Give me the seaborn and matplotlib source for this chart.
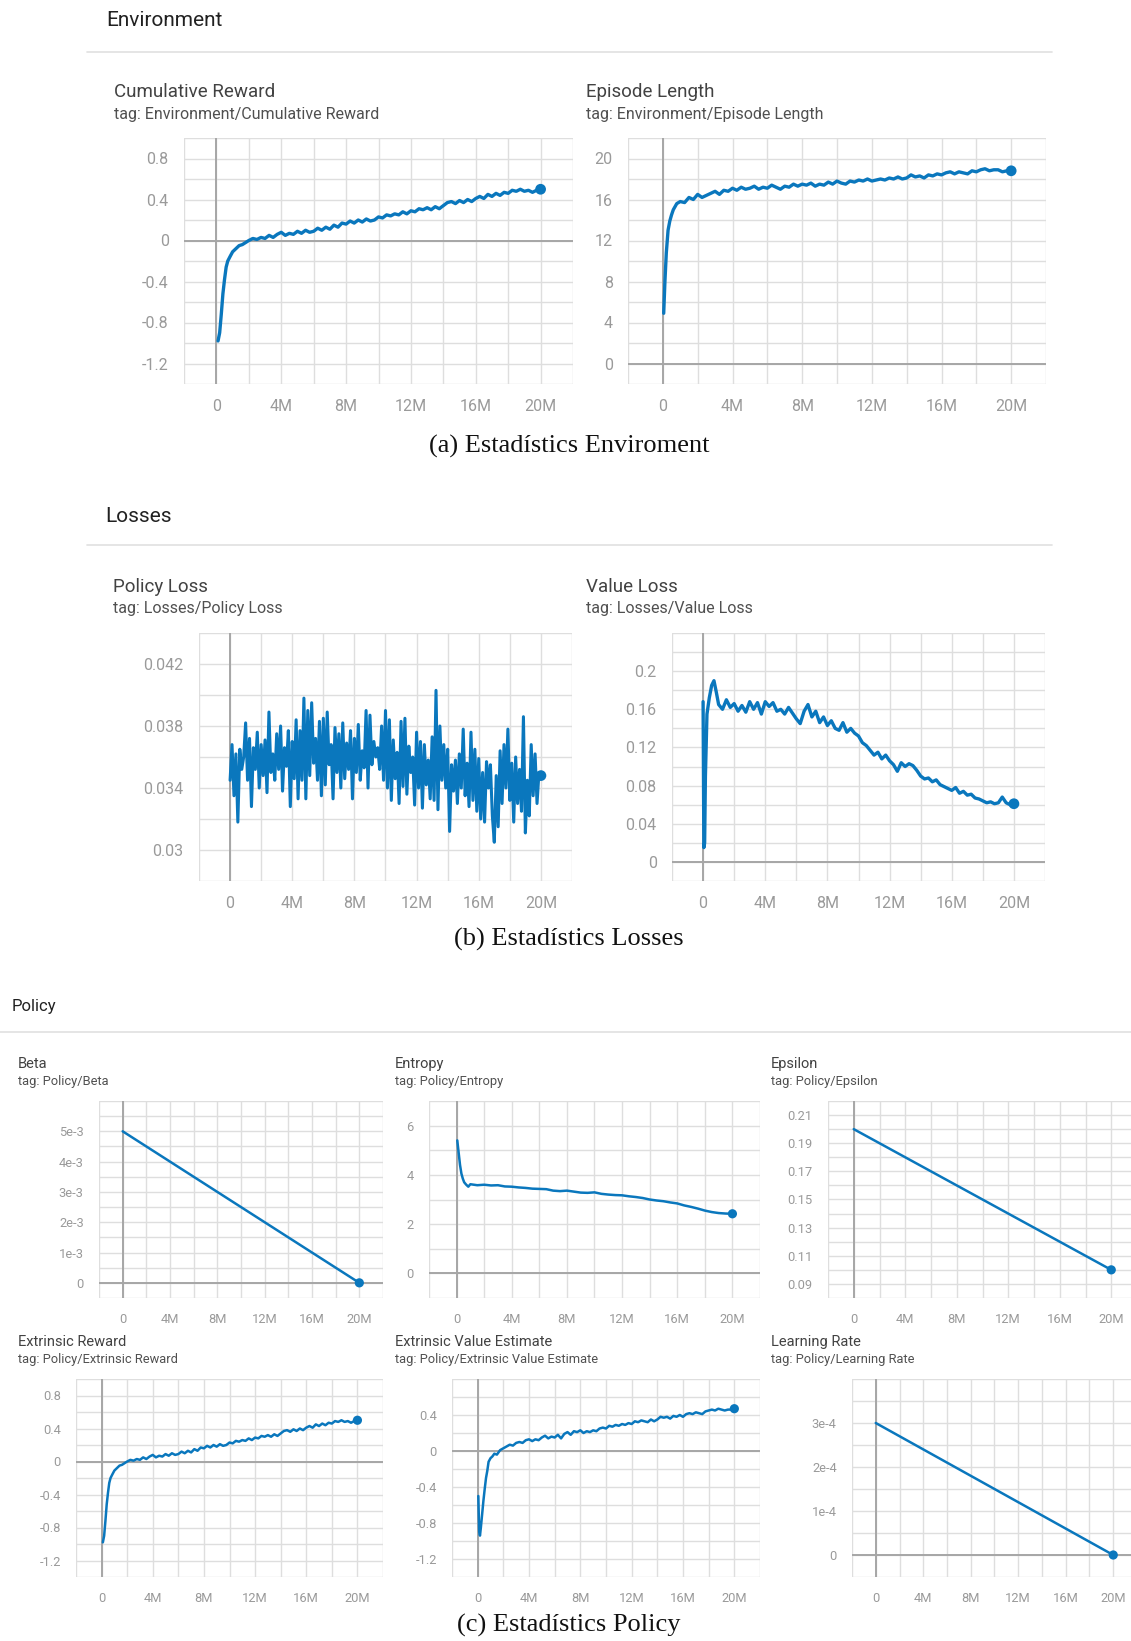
import numpy as np
import pandas as pd
import matplotlib
matplotlib.use("Agg")
import matplotlib.pyplot as plt
import seaborn as sns

# ---------------------------------------------------------------- data
# steps are in millions

# Environment / Cumulative Reward
cum_reward_early_steps = [0.1, 0.2, 0.3, 0.4, 0.5, 0.6, 0.7, 0.83, 1.0, 1.2, 1.4, 1.6, 1.8]
cum_reward_early = [-0.98, -0.90, -0.72, -0.52, -0.38, -0.26, -0.20, -0.16, -0.11, -0.08, -0.05, -0.04, -0.02]
cum_reward_main = [  # from 2M, every 0.25M
    0.00, 0.02, 0.01, 0.03, 0.02, 0.05, 0.03, 0.06,
    0.08, 0.05, 0.07, 0.06, 0.09, 0.07, 0.10, 0.08,
    0.09, 0.12, 0.10, 0.13, 0.11, 0.15, 0.13, 0.17,
    0.16, 0.19, 0.17, 0.20, 0.18, 0.21, 0.19, 0.20,
    0.23, 0.22, 0.25, 0.24, 0.26, 0.25, 0.28, 0.26,
    0.29, 0.28, 0.31, 0.30, 0.32, 0.30, 0.33, 0.31,
    0.34, 0.37, 0.38, 0.36, 0.39, 0.37, 0.40, 0.38,
    0.41, 0.43, 0.41, 0.45, 0.43, 0.46, 0.44, 0.47,
    0.46, 0.49, 0.48, 0.50, 0.48, 0.49, 0.47, 0.49,
    0.50,
]

# Environment / Episode Length
ep_len_early_steps = [0.05, 0.12, 0.2, 0.3, 0.4, 0.5, 0.6, 0.7, 0.8, 0.9]
ep_len_early = [4.9, 8.0, 10.8, 13.0, 13.9, 14.5, 15.0, 15.3, 15.6, 15.7]
ep_len_main = [  # from 1M, every 0.25M
    15.8, 15.7, 16.2, 16.0,
    16.5, 16.2, 16.4, 16.6, 16.8, 16.5, 16.9, 16.8,
    17.1, 16.9, 17.2, 17.0, 17.1, 17.3, 17.0, 17.2,
    17.1, 17.4, 17.2, 17.0, 17.3, 17.2, 17.5, 17.3,
    17.5, 17.4, 17.6, 17.3, 17.5, 17.4, 17.7, 17.5,
    17.8, 17.6, 17.5, 17.8, 17.7, 17.9, 17.8, 18.0,
    17.8, 17.9, 18.0, 17.9, 18.1, 18.0, 18.2, 18.0,
    18.1, 18.4, 18.2, 18.3, 18.1, 18.4, 18.3, 18.5,
    18.4, 18.6, 18.7, 18.5, 18.7, 18.6, 18.5, 18.8,
    18.7, 18.9, 19.0, 18.8, 18.9, 18.9, 18.7, 18.8,
    18.8,
]

# Losses / Policy Loss, every 0.125M from 0
policy_loss = [
    0.0345, 0.0368, 0.0335, 0.0362, 0.0318, 0.0365, 0.0352, 0.0360,
    0.0382, 0.0345, 0.0372, 0.0328, 0.0366, 0.0352, 0.0376, 0.0340,
    0.0368, 0.0348, 0.0371, 0.0337, 0.0389, 0.0350, 0.0362, 0.0345,
    0.0375, 0.0352, 0.0380, 0.0338, 0.0366, 0.0354, 0.0377, 0.0328,
    0.0370, 0.0346, 0.0384, 0.0333, 0.0377, 0.0345, 0.0398, 0.0333,
    0.0390, 0.0348, 0.0395, 0.0356, 0.0372, 0.0345, 0.0383, 0.0335,
    0.0385, 0.0342, 0.0389, 0.0355, 0.0368, 0.0333, 0.0379, 0.0350,
    0.0375, 0.0340, 0.0382, 0.0346, 0.0369, 0.0352, 0.0377, 0.0333,
    0.0372, 0.0350, 0.0381, 0.0345, 0.0364, 0.0353, 0.0390, 0.0340,
    0.0387, 0.0355, 0.0370, 0.0360, 0.0366, 0.0352, 0.0380, 0.0345,
    0.0390, 0.0340, 0.0384, 0.0332, 0.0371, 0.0346, 0.0363, 0.0330,
    0.0383, 0.0341, 0.0385, 0.0336, 0.0367, 0.0350, 0.0360, 0.0329,
    0.0376, 0.0340, 0.0370, 0.0327, 0.0368, 0.0342, 0.0358, 0.0333,
    0.0373, 0.0332, 0.0403, 0.0326, 0.0380, 0.0345, 0.0368, 0.0340,
    0.0365, 0.0312, 0.0355, 0.0338, 0.0358, 0.0330, 0.0362, 0.0340,
    0.0378, 0.0335, 0.0356, 0.0328, 0.0376, 0.0332, 0.0365, 0.0325,
    0.0359, 0.0320, 0.0350, 0.0318, 0.0357, 0.0340, 0.0355, 0.0322,
    0.0305, 0.0348, 0.0315, 0.0364, 0.0330, 0.0368, 0.0340, 0.0378,
    0.0332, 0.0356, 0.0318, 0.0360, 0.0330, 0.0352, 0.0325, 0.0386,
    0.0311, 0.0345, 0.0322, 0.0368, 0.0335, 0.0362, 0.0330, 0.0350,
    0.0348,
]

# Losses / Value Loss
value_loss_early_steps = [0.0, 0.05, 0.1, 0.15, 0.25, 0.4, 0.55, 0.7, 0.85]
value_loss_early = [0.168, 0.015, 0.02, 0.09, 0.155, 0.172, 0.185, 0.19, 0.178]
value_loss_main = [  # from 1M, every 0.25M
    0.165, 0.160, 0.170, 0.162,
    0.166, 0.158, 0.164, 0.157, 0.168, 0.160, 0.167, 0.155,
    0.168, 0.163, 0.167, 0.158, 0.160, 0.155, 0.162, 0.156,
    0.150, 0.145, 0.158, 0.165, 0.152, 0.158, 0.146, 0.152,
    0.143, 0.148, 0.140, 0.138, 0.146, 0.136, 0.140, 0.135,
    0.132, 0.125, 0.122, 0.117, 0.112, 0.115, 0.108, 0.112,
    0.106, 0.102, 0.095, 0.104, 0.100, 0.103, 0.101, 0.096,
    0.090, 0.087, 0.088, 0.084, 0.086, 0.081, 0.079, 0.077,
    0.075, 0.078, 0.072, 0.074, 0.070, 0.071, 0.067, 0.066,
    0.064, 0.062, 0.063, 0.061, 0.062, 0.068, 0.062, 0.060,
    0.061,
]

# Policy / Beta, Epsilon, Learning Rate (linear schedules)
schedule_steps = [0.0, 20.0]
beta_values = [5e-3, 0.0]
epsilon_values = [0.2, 0.1]
learning_rate_values = [3e-4, 0.0]

# Policy / Entropy
entropy_early_steps = [0.05, 0.15, 0.25, 0.35, 0.45, 0.55, 0.7, 0.85]
entropy_early = [5.4, 4.9, 4.4, 4.05, 3.85, 3.7, 3.6, 3.52]
entropy_main = [  # from 1M, every 0.5M
    3.62, 3.58, 3.60, 3.57, 3.58, 3.53, 3.52, 3.49,
    3.47, 3.44, 3.43, 3.42, 3.36, 3.34, 3.36, 3.32,
    3.28, 3.27, 3.29, 3.23, 3.20, 3.18, 3.17, 3.13,
    3.10, 3.06, 3.00, 2.96, 2.93, 2.88, 2.84, 2.76,
    2.70, 2.63, 2.55, 2.49, 2.45, 2.43, 2.42,
]

# Policy / Extrinsic Reward (same signal as the cumulative reward)
ext_reward_early_steps = cum_reward_early_steps
ext_reward_early = cum_reward_early
ext_reward_main = cum_reward_main

# Policy / Extrinsic Value Estimate
ext_value_early_steps = [0.05, 0.12, 0.18, 0.25, 0.35, 0.45, 0.55, 0.65, 0.75, 0.85, 1.0, 1.15, 1.3]
ext_value_early = [-0.50, -0.90, -0.94, -0.85, -0.70, -0.55, -0.42, -0.30, -0.22, -0.12, -0.08, -0.06, -0.03]
ext_value_main = [  # from 1.5M, every 0.25M
    -0.04, 0.01,
    0.03, 0.05, 0.07, 0.06, 0.09, 0.10, 0.09, 0.12,
    0.13, 0.11, 0.13, 0.12, 0.15, 0.17, 0.14, 0.16,
    0.15, 0.18, 0.14, 0.19, 0.21, 0.18, 0.22, 0.21,
    0.23, 0.20, 0.22, 0.21, 0.23, 0.22, 0.25, 0.26,
    0.25, 0.28, 0.27, 0.29, 0.28, 0.30, 0.29, 0.31,
    0.30, 0.33, 0.32, 0.34, 0.33, 0.32, 0.35, 0.33,
    0.35, 0.38, 0.37, 0.38, 0.36, 0.39, 0.38, 0.40,
    0.38, 0.41, 0.42, 0.41, 0.43, 0.42, 0.41, 0.44,
    0.45, 0.46, 0.45, 0.47, 0.46, 0.45, 0.46, 0.46,
    0.47,
]

x_tick_values = [0, 4, 8, 12, 16, 20]
x_tick_labels = ["0", "4M", "8M", "12M", "16M", "20M"]


def series(early_steps, early_vals, start, step, main_vals):
    steps = list(early_steps) + list(start + step * np.arange(len(main_vals)))
    return pd.DataFrame({"step": steps, "value": list(early_vals) + list(main_vals)})


df_cum = series(cum_reward_early_steps, cum_reward_early, 2.0, 0.25, cum_reward_main)
df_len = series(ep_len_early_steps, ep_len_early, 1.0, 0.25, ep_len_main)
df_pol = series([], [], 0.0, 0.125, policy_loss)
df_val = series(value_loss_early_steps, value_loss_early, 1.0, 0.25, value_loss_main)
df_beta = pd.DataFrame({"step": schedule_steps, "value": beta_values})
df_ent = series(entropy_early_steps, entropy_early, 1.0, 0.5, entropy_main)
df_eps = pd.DataFrame({"step": schedule_steps, "value": epsilon_values})
df_ext = series(ext_reward_early_steps, ext_reward_early, 2.0, 0.25, ext_reward_main)
df_evl = series(ext_value_early_steps, ext_value_early, 1.5, 0.25, ext_value_main)
df_lr = pd.DataFrame({"step": schedule_steps, "value": learning_rate_values})

# ---------------------------------------------------------------- style
sns.set_theme(style="white")
plt.rcParams["font.family"] = ["Roboto", "DejaVu Sans"]
plt.rcParams["axes.unicode_minus"] = False

LINE = "#0a77bd"
GRID = "#dedede"
ZERO = "#a6a6a6"
TICK_TXT = "#9a9a9a"

W, H = 1131, 1641
fig = plt.figure(figsize=(W / 100, H / 100), dpi=100)
fig.patch.set_facecolor("white")


def add_axes(x0, x1, y0, y1):
    return fig.add_axes([x0 / W, 1 - y1 / H, (x1 - x0) / W, (y1 - y0) / H])


def ftext(x, y, s, **kw):
    fig.text(x / W, 1 - y / H, s, va="center", **kw)


def hline(x0, x1, y, color="#e0e0e0", lw=1.2):
    fig.add_artist(plt.Line2D([x0 / W, x1 / W], [1 - y / H, 1 - y / H],
                              color=color, lw=lw, transform=fig.transFigure))


def panel(ax, df, ylim, yticks, ylabels, ystep, fs, lw, ms):
    ax.set_xlim(-2, 22)
    ax.set_ylim(*ylim)
    ax.set_xticks(x_tick_values)
    ax.set_xticklabels(x_tick_labels)
    ax.set_xticks(np.arange(-2, 22.01, 2), minor=True)
    ax.set_yticks(yticks)
    ax.set_yticklabels(ylabels)
    n = int(round((ylim[1] - ylim[0]) / ystep))
    ax.set_yticks(ylim[0] + ystep * np.arange(n + 1), minor=True)
    ax.grid(which="both", color=GRID, lw=1.0)
    ax.tick_params(which="both", length=5, width=1.0, color=GRID,
                   labelcolor=TICK_TXT, labelsize=fs, pad=6)
    ax.tick_params(axis="x", which="both", pad=6)
    for s in ax.spines.values():
        s.set_visible(False)
    ax.set_facecolor("white")
    if ylim[0] < 0 < ylim[1]:
        ax.axhline(0, color=ZERO, lw=1.4, zorder=1.5)
    ax.axvline(0, color=ZERO, lw=1.4, zorder=1.5)
    sns.lineplot(data=df, x="step", y="value", ax=ax, color=LINE, lw=lw,
                 estimator=None, zorder=3)
    sns.scatterplot(data=df.tail(1), x="step", y="value", ax=ax, color=LINE,
                    s=ms, edgecolor="none", zorder=4)
    ax.set_xlabel("")
    ax.set_ylabel("")


def fmt(vals):
    return ["0" if v == 0 else f"{v:g}" for v in vals]


SERIF = ["Liberation Serif", "DejaVu Serif"]

# ---------------------------------------------------------------- Environment
ftext(106, 20, "Environment", fontsize=15, color="#212121")
hline(87, 1052, 52)

ftext(114, 92, "Cumulative Reward", fontsize=13.5, color="#424242")
ftext(114, 114, "tag: Environment/Cumulative Reward", fontsize=11.5, color="#505050")
ax = add_axes(184, 573, 138, 384)
yt = [-1.2, -0.8, -0.4, 0, 0.4, 0.8]
panel(ax, df_cum, (-1.4, 1.0), yt, fmt(yt), 0.2, 11.5, 2.4, 60)

ftext(586, 92, "Episode Length", fontsize=13.5, color="#424242")
ftext(586, 114, "tag: Environment/Episode Length", fontsize=11.5, color="#505050")
ax = add_axes(628, 1046, 138, 384)
yt = [0, 4, 8, 12, 16, 20]
panel(ax, df_len, (-2, 22), yt, fmt(yt), 2, 11.5, 2.4, 60)

ftext(569, 446, "(a) Estadístics Enviroment", fontsize=19, ha="center",
      family=SERIF, color="#111111")

# ---------------------------------------------------------------- Losses
ftext(105, 516, "Losses", fontsize=15, color="#212121")
hline(87, 1052, 545)

ftext(113, 587, "Policy Loss", fontsize=13.5, color="#424242")
ftext(113, 609, "tag: Losses/Policy Loss", fontsize=11.5, color="#505050")
ax = add_axes(199, 572, 633, 881)
yt = [0.03, 0.034, 0.038, 0.042]
panel(ax, df_pol, (0.028, 0.044), yt, fmt(yt), 0.002, 11.5, 2.2, 60)

ftext(586, 587, "Value Loss", fontsize=13.5, color="#424242")
ftext(586, 609, "tag: Losses/Value Loss", fontsize=11.5, color="#505050")
ax = add_axes(672, 1045, 633, 881)
yt = [0, 0.04, 0.08, 0.12, 0.16, 0.2]
panel(ax, df_val, (-0.02, 0.24), yt, fmt(yt), 0.02, 11.5, 2.4, 60)

ftext(569, 939, "(b) Estadístics Losses", fontsize=19, ha="center",
      family=SERIF, color="#111111")

# ---------------------------------------------------------------- Policy
ftext(12, 1007, "Policy", fontsize=12, color="#212121")
hline(0, W, 1032)

small_title = 10.5
small_tag = 9.3
small_tick = 9.3

ftext(18, 1064, "Beta", fontsize=small_title, color="#424242")
ftext(18, 1082, "tag: Policy/Beta", fontsize=small_tag, color="#505050")
ax = add_axes(99, 383, 1101, 1298)
yt = [0, 1e-3, 2e-3, 3e-3, 4e-3, 5e-3]
panel(ax, df_beta, (-0.5e-3, 6e-3), yt, ["0", "1e-3", "2e-3", "3e-3", "4e-3", "5e-3"],
      0.5e-3, small_tick, 1.8, 44)

ftext(395, 1064, "Entropy", fontsize=small_title, color="#424242")
ftext(395, 1082, "tag: Policy/Entropy", fontsize=small_tag, color="#505050")
ax = add_axes(429, 760, 1101, 1298)
yt = [0, 2, 4, 6]
panel(ax, df_ent, (-1, 7), yt, fmt(yt), 1, small_tick, 1.8, 44)

ftext(771, 1064, "Epsilon", fontsize=small_title, color="#424242")
ftext(771, 1082, "tag: Policy/Epsilon", fontsize=small_tag, color="#505050")
ax = add_axes(828, 1137, 1101, 1298)
yt = [0.09, 0.11, 0.13, 0.15, 0.17, 0.19, 0.21]
panel(ax, df_eps, (0.08, 0.22), yt, fmt(yt), 0.01, small_tick, 1.8, 44)

ftext(18, 1342, "Extrinsic Reward", fontsize=small_title, color="#424242")
ftext(18, 1360, "tag: Policy/Extrinsic Reward", fontsize=small_tag, color="#505050")
ax = add_axes(76, 383, 1379, 1577)
yt = [-1.2, -0.8, -0.4, 0, 0.4, 0.8]
panel(ax, df_ext, (-1.4, 1.0), yt, fmt(yt), 0.2, small_tick, 1.8, 44)

ftext(395, 1342, "Extrinsic Value Estimate", fontsize=small_title, color="#424242")
ftext(395, 1360, "tag: Policy/Extrinsic Value Estimate", fontsize=small_tag, color="#505050")
ax = add_axes(452, 760, 1379, 1577)
yt = [-1.2, -0.8, -0.4, 0, 0.4]
panel(ax, df_evl, (-1.4, 0.8), yt, fmt(yt), 0.2, small_tick, 1.8, 44)

ftext(771, 1342, "Learning Rate", fontsize=small_title, color="#424242")
ftext(771, 1360, "tag: Policy/Learning Rate", fontsize=small_tag, color="#505050")
ax = add_axes(852, 1137, 1379, 1577)
yt = [0, 1e-4, 2e-4, 3e-4]
panel(ax, df_lr, (-0.5e-4, 4e-4), yt, ["0", "1e-4", "2e-4", "3e-4"],
      0.5e-4, small_tick, 1.8, 44)

ftext(569, 1625, "(c) Estadístics Policy", fontsize=19, ha="center",
      family=SERIF, color="#111111")

fig.savefig("out.png", dpi=100, facecolor="white")
